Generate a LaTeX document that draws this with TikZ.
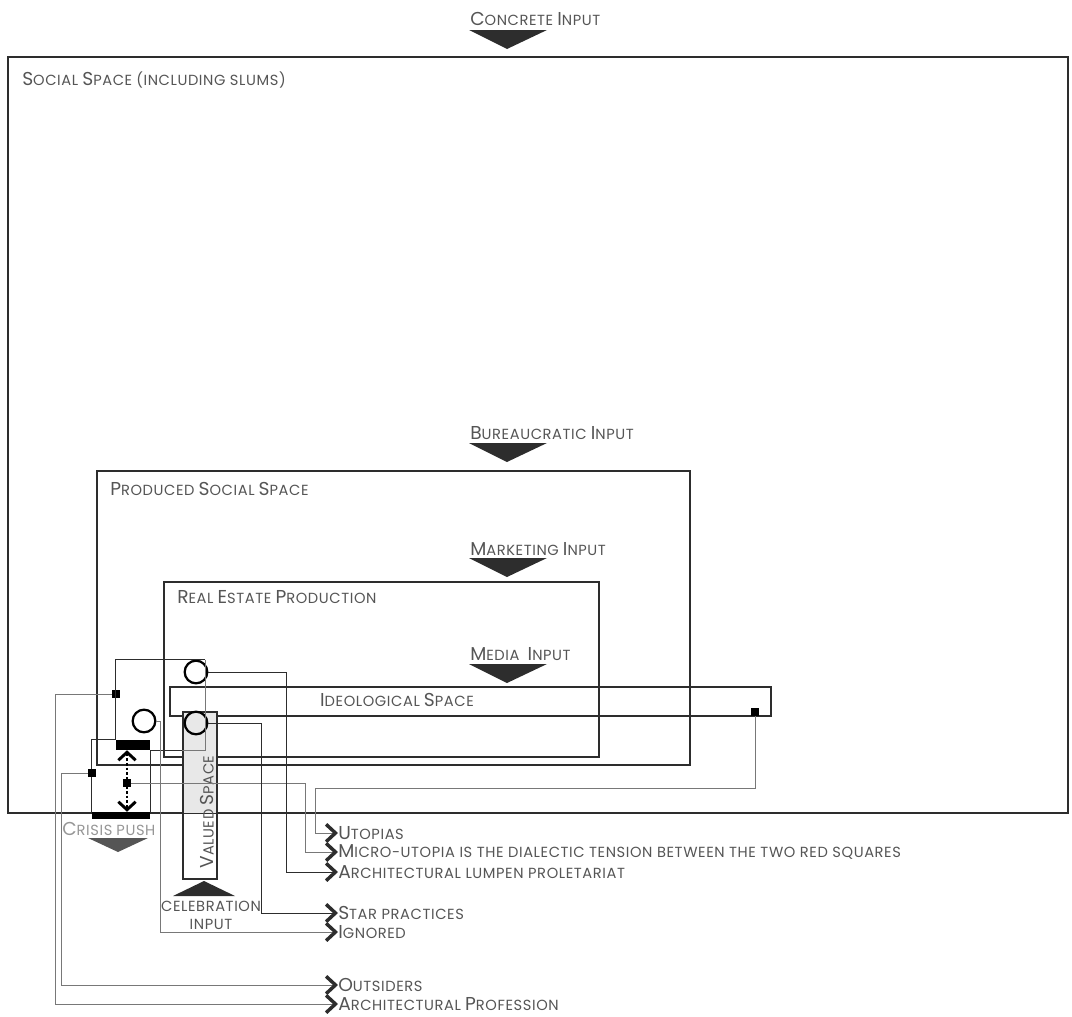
\documentclass[tikz,border=0pt]{standalone}
\usepackage{fontspec}
\setmainfont{Poppins}[LetterSpace=4]
\usetikzlibrary{arrows.meta,positioning,fit}
\definecolor{inkdark}{RGB}{45,45,45}
\definecolor{inkgray}{RGB}{120,120,120}
\definecolor{txtgray}{RGB}{85,85,85}
\definecolor{crisisgray}{RGB}{150,150,150}
\definecolor{crisistri}{RGB}{85,85,85}
\definecolor{valuedfill}{RGB}{232,232,232}
% fake small caps: first letter tall, rest small
\newcommand{\scword}[2]{{\fontsize{14}{15}\selectfont #1}{\fontsize{11}{13}\selectfont #2}}
\newcommand{\sclow}[1]{{\fontsize{11}{13}\selectfont #1}}

\begin{document}
\begin{tikzpicture}[x=0.75pt,y=-0.75pt,
  frame/.style={draw=inkdark, line width=0.9pt, inner sep=0pt},
  boxlabel/.style={anchor=west, text=txtgray, inner sep=0pt},
  outlabel/.style={anchor=west, text=txtgray, inner sep=0pt},
  hole/.style={circle, draw=black, line width=1.7pt, minimum size=17pt, inner sep=0pt},
  pin/.style={rectangle, fill=black, minimum size=6pt, inner sep=0pt},
  bar/.style={fill=black, inner sep=0pt},
  wire/.style={draw=inkgray, line width=0.6pt},
  tip/.style={-{Straight Barb[length=7pt, width=13pt, line width=2.6pt, color=inkdark]}}
]
  \useasboundingbox (0,0) rectangle (1072,1017);

  %% nested spaces
  \node[frame, fit={(8,57) (1068,813)}] (social) {};
  \node[frame, fit={(97,471) (690,765)}] (produced) {};
  \node[frame, fit={(164,582) (599,757)}] (realestate) {};
  \node[frame, fit={(170,687) (771,716)}] (ideo) {};

  %% input triangles
  \foreach \y in {30,443,558,664}
    \fill[inkdark] (469,\y) -- ++(78,0) -- ++(-40,19) -- cycle;

  \node[boxlabel] (concrete) at (470,19) {\scword{C}{ONCRETE} \scword{I}{NPUT}};
  \node[boxlabel] (bureau) at (470,433) {\scword{B}{UREAUCRATIC} \scword{I}{NPUT}};
  \node[boxlabel] (market) at (470,549) {\scword{M}{ARKETING} \scword{I}{NPUT}};
  \node[boxlabel] (media) at (470,654) {\scword{M}{EDIA}\ \ \scword{I}{NPUT}};

  \node[boxlabel] (sociallbl) at (22,80) {\scword{S}{OCIAL} \scword{S}{PACE} \sclow{(INCLUDING SLUMS)}};
  \node[boxlabel] (producedlbl) at (110,489) {\scword{P}{RODUCED} \scword{S}{OCIAL} \scword{S}{PACE}};
  \node[boxlabel] (realestatelbl) at (177,597) {\scword{R}{EAL} \scword{E}{STATE} \scword{P}{RODUCTION}};
  \node[text=txtgray, inner sep=0pt] (ideolbl) at (397,700) {\scword{I}{DEOLOGICAL} \scword{S}{PACE}};

  %% valued space
  \fill[valuedfill] (183,712) rectangle (217,813);
  \node[frame, fit={(183,712) (217,879)}] (valued) {};
  \node[text=txtgray, inner sep=0pt, rotate=90] (valuedlbl) at (207,812) {\scword{V}{ALUED} \scword{S}{PACE}};
  \fill[inkdark] (173,896) -- (235,896) -- (204,881) -- cycle;
  \node[text=txtgray, inner sep=0pt, align=center, font=\fontsize{11}{13.5}\selectfont] (celeb) at (211,915) {CELEBRATION\\INPUT};

  %% crisis box
  \node[bar, fit={(116,740) (150,750)}] (barTop) {};
  \node[bar, fit={(92,812) (150,819)}] (barBot) {};
  \draw[frame] (barTop.north west) -| (barBot.north west);
  \draw[frame] (barTop.south east) -- (barBot.north east);
  \node[boxlabel, text=crisisgray] (crisis) at (62,829) {\scword{C}{RISIS} \sclow{PUSH}};
  \fill[crisistri] (88,838) -- (148,838) -- (118,852) -- cycle;

  %% circles and pins
  \node[hole] (cTop) at (196,672) {};
  \node[hole] (cLeft) at (144,721) {};
  \node[hole] (cLow) at (196,723) {};
  \node[pin] (sqA) at (116,694) {};
  \node[pin] (sqB) at (92,773) {};
  \node[pin] (sqC) at (127,783) {};
  \node[pin] (sqI) at (755,712) {};

  \draw[frame] (barTop.north west) |- ([xshift=6.75pt]cTop.north) coordinate (loopNE);
  \draw[wire] (loopNE) |- (valued.west |- barTop.south east) coordinate (loopSW);
  \draw[frame] (loopSW) -- (barTop.south east);
  \draw[dash pattern=on 2pt off 1.5pt, line width=0.8pt,
        {Straight Barb[length=6pt, width=13pt, line width=2.2pt]}-{Straight Barb[length=6pt, width=13pt, line width=2.2pt]}]
        (sqC |- barTop.south) -- (sqC |- barBot.north);

  %% outcome labels
  \node[outlabel] (utop) at (338,833) {\scword{U}{TOPIAS}};
  \node[outlabel] (micro) at (338,852) {\scword{M}{ICRO-UTOPIA IS THE DIALECTIC TENSION BETWEEN THE TWO RED SQUARES}};
  \node[outlabel] (lumpen) at (338,872) {\scword{A}{RCHITECTURAL LUMPEN PROLETARIAT}};
  \node[outlabel] (star) at (338,913) {\scword{S}{TAR PRACTICES}};
  \node[outlabel] (ign) at (338,932) {\scword{I}{GNORED}};
  \node[outlabel] (outs) at (338,985) {\scword{O}{UTSIDERS}};
  \node[outlabel] (prof) at (338,1004) {\scword{A}{RCHITECTURAL} \scword{P}{ROFESSION}};

  %% connectors
  \draw[wire, tip] (sqI) |- ++(-440,76) |- (utop.west);
  \draw[wire, tip] (sqC) -- ++(178,0) |- (micro.west);
  \draw[wire, draw=inkdark, tip] (cTop.east) -- ++(78,0) |- (lumpen.west);
  \draw[wire, draw=inkdark, tip] (cLow.east) -- ++(53,0) |- (star.west);
  \draw[wire, tip] (cLeft.east) -- ++(4,0) |- (ign.west);
  \draw[wire, tip] (sqB) -- ++(-31,0) |- (outs.west);
  \draw[wire, tip] (sqA) -- ++(-61,0) |- (prof.west);
\end{tikzpicture}
\end{document}
